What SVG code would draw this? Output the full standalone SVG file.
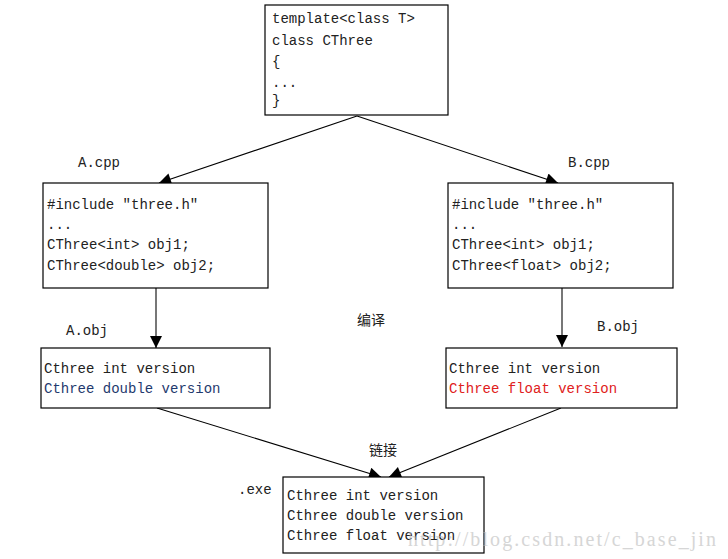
<svg xmlns="http://www.w3.org/2000/svg" width="728" height="559" viewBox="0 0 728 559">
<style>
.box{fill:#fff;stroke:#000;stroke-width:1.2}
.t{font-family:"Liberation Mono","DejaVu Sans Mono",monospace;font-size:14px;fill:#222}
.cn{font-family:"Noto Sans CJK SC",sans-serif;font-size:14px;fill:#222}
.ln{stroke:#000;stroke-width:1.1;fill:none}
.vl{stroke:#777;stroke-width:2;fill:none}
.wm{font-family:"Liberation Serif",serif;font-size:20px;fill:#bbb;opacity:0.6}
</style>
<defs>
<marker id="ah2" viewBox="0 0 10 10" refX="10" refY="5" markerWidth="18" markerHeight="12" markerUnits="userSpaceOnUse" orient="auto">
<path d="M0,0 L10,5 L0,10 Z" fill="#000"/>
</marker>
</defs>
<rect width="728" height="559" fill="#fff"/>
<g id="connectors">
<line class="ln" x1="357" y1="116" x2="159" y2="183" marker-end="url(#ah2)"/>
<line class="ln" x1="357" y1="116" x2="558" y2="183" marker-end="url(#ah2)"/>
<line class="vl" x1="156" y1="288" x2="156" y2="348" marker-end="url(#ah2)"/>
<line class="vl" x1="562" y1="288" x2="562" y2="347" marker-end="url(#ah2)"/>
<line class="ln" x1="157" y1="408" x2="381" y2="477" marker-end="url(#ah2)"/>
<line class="ln" x1="561" y1="408" x2="389" y2="477" marker-end="url(#ah2)"/>
</g>
<g id="template">
<rect class="box" x="265" y="5" width="183" height="110"/>
<text class="t" x="272" y="23">template&lt;class T&gt;</text>
<text class="t" x="272" y="45">class CThree</text>
<text class="t" x="272" y="66">{</text>
<text class="t" x="272" y="87">...</text>
<text class="t" x="272" y="105">}</text>
</g>
<g id="acpp">
<text class="t" x="78" y="167">A.cpp</text>
<rect class="box" x="43" y="183" width="225" height="105"/>
<text class="t" x="47" y="209">#include "three.h"</text>
<text class="t" x="47" y="229">...</text>
<text class="t" x="47" y="249">CThree&lt;int&gt; obj1;</text>
<text class="t" x="47" y="270">CThree&lt;double&gt; obj2;</text>
</g>
<g id="bcpp">
<text class="t" x="568" y="167">B.cpp</text>
<rect class="box" x="448" y="183" width="225" height="105"/>
<text class="t" x="452" y="209">#include "three.h"</text>
<text class="t" x="452" y="229">...</text>
<text class="t" x="452" y="249">CThree&lt;int&gt; obj1;</text>
<text class="t" x="452" y="270">CThree&lt;float&gt; obj2;</text>
</g>
<g id="compile">
<text class="cn" x="357" y="325">编译</text>
</g>
<g id="aobj">
<text class="t" x="66" y="335">A.obj</text>
<rect class="box" x="41" y="348" width="229" height="60"/>
<text class="t" x="44" y="373">Cthree int version</text>
<text class="t" x="44" y="393" style="fill:#1f3a6e">Cthree double version</text>
</g>
<g id="bobj">
<text class="t" x="597" y="331">B.obj</text>
<rect class="box" x="446" y="348" width="231" height="60"/>
<text class="t" x="449" y="373">Cthree int version</text>
<text class="t" x="449" y="393" style="fill:#e02020">Cthree float version</text>
</g>
<g id="link">
<text class="cn" x="369" y="455">链接</text>
</g>
<g id="exe">
<text class="t" x="238" y="494">.exe</text>
<rect class="box" x="283" y="477" width="201" height="76"/>
<text class="t" x="287" y="500">Cthree int version</text>
<text class="t" x="287" y="520">Cthree double version</text>
<text class="t" x="287" y="540">Cthree float version</text>
</g>
<text class="wm" x="408" y="546" textLength="308" lengthAdjust="spacing">http://blog.csdn.net/c_base_jin</text>
</svg>
